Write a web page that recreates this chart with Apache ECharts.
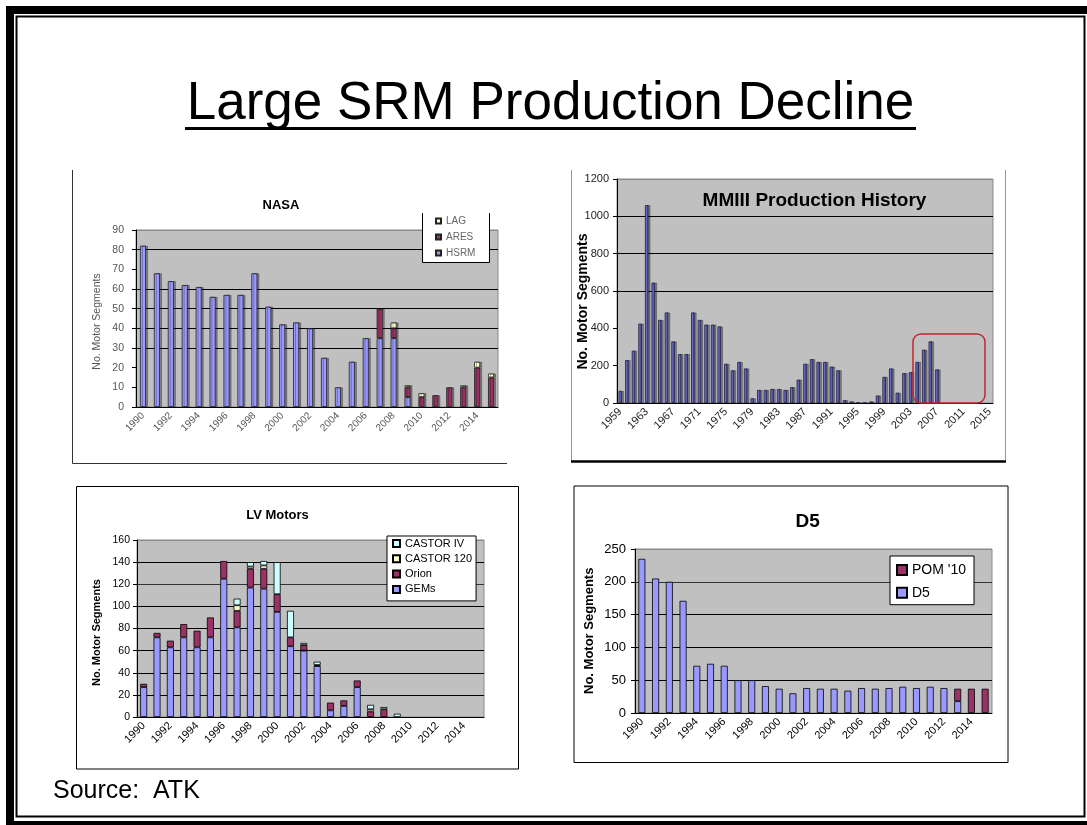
<!DOCTYPE html>
<html>
<head>
<meta charset="utf-8">
<title>Large SRM Production Decline</title>
<script src="https://cdn.jsdelivr.net/npm/echarts@6/dist/echarts.min.js"></script>
<style>
    html, body { margin: 0; padding: 0; background: #fff; }
    #slide { width: 1087px; height: 825px; }
</style>
</head>
<body>
<div id="slide"></div>
<script>
    // categories
    var years90 = ['1990','1991','1992','1993','1994','1995','1996','1997','1998','1999',
        '2000','2001','2002','2003','2004','2005','2006','2007','2008','2009',
        '2010','2011','2012','2013','2014','2015'];
    var years59 = ['1959','1960','1961','1962','1963','1964','1965','1966','1967','1968',
        '1969','1970','1971','1972','1973','1974','1975','1976','1977','1978',
        '1979','1980','1981','1982','1983','1984','1985','1986','1987','1988',
        '1989','1990','1991','1992','1993','1994','1995','1996','1997','1998',
        '1999','2000','2001','2002','2003','2004','2005','2006','2007','2008',
        '2009','2010','2011','2012','2013','2014','2015'];

    // NASA
    var nasaHSRM = [82,68,64,62,61,56,57,57,68,51,42,43,40,25,10,23,35,35,35,5,0,0,0,0,0,0];
    var nasaARES = [0,0,0,0,0,0,0,0,0,0,0,0,0,0,0,0,0,15,5,5,5,6,10,10,20,15];
    var nasaLAG  = [0,0,0,0,0,0,0,0,0,0,0,0,0,0,0,0,0,0,3,1,2,0,0,1,3,2];

    // MMIII
    var mm3Segments = [65,230,280,425,1060,645,445,485,330,262,
        262,485,445,420,420,410,210,175,220,185,
        25,70,70,75,75,70,85,125,210,235,
        220,220,195,175,15,8,2,2,8,40,
        140,185,55,160,165,220,285,330,180,0,
        0,0,0,0,0,0,0];

    // LV Motors
    var lvGEMs      = [27,72,63,72,63,72,125,81,117,116,95,64,60,46,6,10,27,0,0,0,0,0,0,0,0,0];
    var lvOrion     = [3,4,6,12,15,18,16,15,17,18,16,8,5,1,7,5,6,5,7,0,0,0,0,0,0,0];
    var lvCastor120 = [0,0,0,0,0,0,0,5,2,3,0,0,0,0,0,0,0,2,0,0,0,0,0,0,0,0];
    var lvCastorIV  = [0,0,0,0,0,0,0,6,4,4,29,24,2,3,0,0,0,4,2,3,0,0,0,0,0,0];

    // D5
    var d5Main = [235,205,200,171,72,75,72,50,50,41,37,30,38,37,37,34,38,37,38,40,38,40,38,18,0,0];
    var d5POM  = [0,0,0,0,0,0,0,0,0,0,0,0,0,0,0,0,0,0,0,0,0,0,0,19,37,37];

    var FONT = '"Liberation Sans", Arial, sans-serif';
    var NONE = 'rgba(0,0,0,0)';

    function noZero(arr) {
        return arr.map(function (v) { return v === 0 ? '-' : v; });
    }

    function xAxisFor(grid, cats, every, size, color) {
        return {
            type: 'category', gridIndex: grid, data: cats,
            axisLine: { lineStyle: { color: '#000', width: 1 } },
            axisTick: { interval: 0, length: 4, lineStyle: { color: '#000' } },
            axisLabel: { interval: every, rotate: 45, fontFamily: FONT, fontSize: size, color: color, margin: 7 },
            splitLine: { show: false }
        };
    }

    function yAxisFor(grid, max, step, lineColors, size, color, margin) {
        return {
            type: 'value', gridIndex: grid, min: 0, max: max, interval: step,
            axisLine: { show: true, lineStyle: { color: '#000', width: 1 } },
            axisTick: { show: true, length: 4, lineStyle: { color: '#000' } },
            axisLabel: {
                fontFamily: FONT, fontSize: size, color: color, margin: margin,
                formatter: function (v) { return String(v); }
            },
            splitLine: { show: true, lineStyle: { color: lineColors, width: 1 } }
        };
    }

    function bars(name, data, grid, stack, color, width, border, shadow) {
        var s = {
            name: name, type: 'bar', xAxisIndex: grid, yAxisIndex: grid,
            data: noZero(data), barWidth: width,
            itemStyle: { color: color, borderColor: border, borderWidth: 0.8 }
        };
        if (stack) s.stack = stack;
        if (shadow) {
            s.itemStyle.shadowColor = 'rgba(0,0,0,0.35)';
            s.itemStyle.shadowOffsetX = 2;
            s.itemStyle.shadowBlur = 0;
        }
        return s;
    }

    function label(text, x, y, size, weight, color, rot) {
        return {
            type: 'text', x: x, y: y, rotation: rot || 0, z: 50,
            style: {
                text: text, fill: color || '#000',
                font: (weight || 'normal') + ' ' + size + 'px ' + FONT,
                textAlign: 'center', textVerticalAlign: 'middle'
            }
        };
    }

    var chart = echarts.init(document.getElementById('slide'));

    var option = {
        animation: false,
        backgroundColor: '#fff',
        grid: [
            { left: 136, top: 230, width: 362, height: 177, show: true, backgroundColor: '#c0c0c0', borderColor: '#8a8a8a', borderWidth: 1 },
            { left: 617, top: 179, width: 376, height: 224, show: true, backgroundColor: '#c0c0c0', borderColor: '#8a8a8a', borderWidth: 1 },
            { left: 137, top: 540, width: 347, height: 177, show: true, backgroundColor: '#c0c0c0', borderColor: '#8a8a8a', borderWidth: 1 },
            { left: 635, top: 549, width: 357, height: 164, show: true, backgroundColor: '#c0c0c0', borderColor: '#8a8a8a', borderWidth: 1 }
        ],
        xAxis: [
            xAxisFor(0, years90, 1, 10, '#555'),
            xAxisFor(1, years59, 3, 11, '#222'),
            xAxisFor(2, years90, 1, 11, '#000'),
            xAxisFor(3, years90, 1, 11, '#000')
        ],
        yAxis: [
            yAxisFor(0, 90, 10, [NONE, NONE, NONE, '#000', '#000', '#000', '#000', NONE, '#000', '#8a8a8a'], 10.5, '#555', 12),
            yAxisFor(1, 1200, 200, [NONE, NONE, NONE, '#000', '#000', '#000', '#8a8a8a'], 11, '#222', 8),
            yAxisFor(2, 160, 20, [NONE, '#000', '#000', '#000', '#000', '#000', '#333', '#000', '#8a8a8a'], 10.5, '#000', 7),
            yAxisFor(3, 250, 50, [NONE, '#000', '#000', '#000', '#333', '#8a8a8a'], 13, '#000', 9)
        ],
        legend: [
            {
                data: ['LAG', 'ARES', 'HSRM'], orient: 'vertical', left: 435, top: 216,
                padding: 0, itemWidth: 5, itemHeight: 5, itemGap: 6, icon: 'rect',
                textStyle: { fontFamily: FONT, fontSize: 10, color: '#666' }, z: 60
            },
            {
                data: ['CASTOR IV', 'CASTOR 120', 'Orion', 'GEMs'], orient: 'vertical', left: 387, top: 536,
                padding: [2, 4, 6, 5], itemWidth: 7, itemHeight: 7, itemGap: 4.3, icon: 'rect',
                backgroundColor: '#fff', borderColor: '#000', borderWidth: 1,
                textStyle: { fontFamily: FONT, fontSize: 11, color: '#000' }
            },
            {
                data: ["POM '10", 'D5'], orient: 'vertical', left: 890, top: 556,
                padding: [7, 8, 5, 6], itemWidth: 10, itemHeight: 10, itemGap: 8.7, icon: 'rect',
                backgroundColor: '#fff', borderColor: '#000', borderWidth: 1,
                textStyle: { fontFamily: FONT, fontSize: 14, color: '#000' }
            }
        ],
        series: [
            bars('HSRM', nasaHSRM, 0, 'nasa', '#9999ff', 6, '#222', true),
            bars('ARES', nasaARES, 0, 'nasa', '#993366', 6, '#222', true),
            bars('LAG', nasaLAG, 0, 'nasa', '#ffffcc', 6, '#222', true),

            bars('MMIII', mm3Segments, 1, null, '#6b6bcc', 3.5, '#1e1e40', true),

            bars('GEMs', lvGEMs, 2, 'lv', '#9999ff', 7, '#000', false),
            bars('Orion', lvOrion, 2, 'lv', '#993366', 7, '#000', false),
            bars('CASTOR 120', lvCastor120, 2, 'lv', '#ffffcc', 7, '#000', false),
            bars('CASTOR IV', lvCastorIV, 2, 'lv', '#ccffff', 7, '#000', false),

            bars('D5', d5Main, 3, 'd5', '#9999ff', 7, '#000', false),
            bars("POM '10", d5POM, 3, 'd5', '#993366', 7, '#000', false)
        ],
        graphic: [
            // slide frame
            { type: 'rect', shape: { x: 10, y: 10, width: 1090, height: 815 }, style: { fill: NONE, stroke: '#000', lineWidth: 8 }, silent: true },
            { type: 'rect', shape: { x: 16.5, y: 16.5, width: 1068, height: 800 }, style: { fill: NONE, stroke: '#000', lineWidth: 2 }, silent: true },

            // slide title
            label('Large SRM Production Decline', 550.5, 104, 53, 'normal', '#000'),
            { type: 'line', shape: { x1: 185, y1: 128.5, x2: 916, y2: 128.5 }, style: { stroke: '#000', lineWidth: 3 }, silent: true },
            {
                type: 'text', x: 53, y: 791, z: 50,
                style: { text: 'Source:  ATK', fill: '#000', font: 'normal 25px ' + FONT, textAlign: 'left', textVerticalAlign: 'middle' }
            },

            // chart frames
            { type: 'polyline', shape: { points: [[72.5, 170], [72.5, 463.5], [507, 463.5]] }, style: { fill: NONE, stroke: '#333', lineWidth: 1 }, silent: true },
            { type: 'polyline', shape: { points: [[571.5, 170], [571.5, 461.5], [1005.5, 461.5], [1005.5, 170]] }, style: { fill: NONE, stroke: '#999', lineWidth: 1 }, silent: true },
            { type: 'line', shape: { x1: 571, y1: 461.5, x2: 1006, y2: 461.5 }, style: { stroke: '#000', lineWidth: 2.5 }, silent: true },
            { type: 'rect', shape: { x: 76.5, y: 486.5, width: 442, height: 282.5 }, style: { fill: NONE, stroke: '#000', lineWidth: 1 }, silent: true },
            { type: 'rect', shape: { x: 574, y: 486, width: 434, height: 276.5 }, style: { fill: NONE, stroke: '#000', lineWidth: 1 }, silent: true },

            // NASA legend box (top edge cut off in the source)
            { type: 'rect', z: 55, shape: { x: 422, y: 213, width: 67, height: 49 }, style: { fill: '#fff', stroke: NONE }, silent: true },
            { type: 'polyline', z: 56, shape: { points: [[422.5, 213], [422.5, 262.5], [489.5, 262.5], [489.5, 213]] }, style: { fill: NONE, stroke: '#000', lineWidth: 1 }, silent: true },

            // MMIII highlight
            { type: 'rect', z: 40, shape: { x: 913, y: 334, width: 72, height: 69, r: 8 }, style: { fill: NONE, stroke: '#c0282d', lineWidth: 1.5 }, silent: true },

            // chart titles
            label('NASA', 281, 205, 13, 'bold'),
            label('MMIII Production History', 814.5, 201, 19, 'bold'),
            label('LV Motors', 277.5, 515.7, 13, 'bold'),
            label('D5', 807.7, 521.7, 19, 'bold'),

            // y axis names
            label('No. Motor Segments', 97.3, 321.5, 10.5, 'normal', '#555', Math.PI / 2),
            label('No. Motor Segments', 582.7, 301.5, 14, 'bold', '#000', Math.PI / 2),
            label('No. Motor Segments', 96.7, 632.5, 11, 'bold', '#000', Math.PI / 2),
            label('No. Motor Segments', 589.3, 630.8, 13, 'bold', '#000', Math.PI / 2)
        ]
    };

    chart.setOption(option);
</script>
</body>
</html>
